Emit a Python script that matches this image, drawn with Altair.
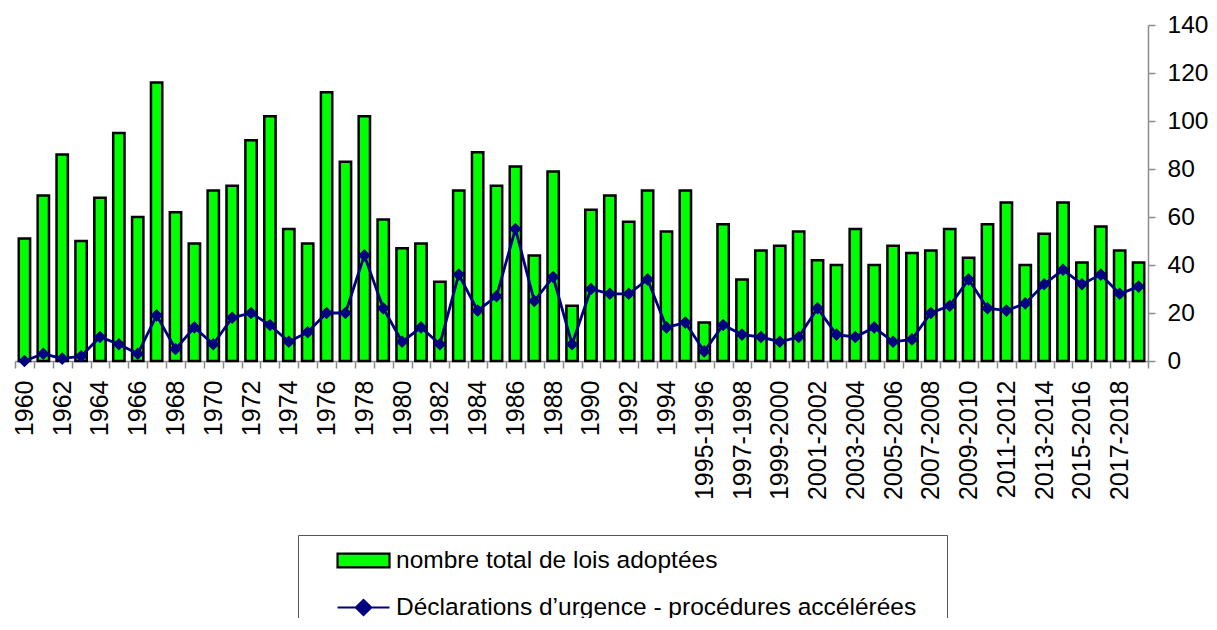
import json
import altair as alt
import pandas as pd

categories = [str(y) for y in range(1960, 1996)] + [f"{y}-{y+1}" for y in range(1995, 2019)]

lois_adoptees = [51, 69, 86, 50, 68, 95, 60, 116, 62, 49, 71, 73, 92, 102, 55,
                 49, 112, 83, 102, 59, 47, 49, 33, 71, 87, 73, 81, 44, 79, 23,
                 63, 69, 58, 71, 54, 71,
                 16, 57, 34, 46, 48, 54, 42, 40,
                 55, 40, 48, 45, 46, 55, 43, 57, 66, 40, 53, 66, 41, 56, 46, 41]

urgences = [0, 3, 1, 2, 10, 7, 3, 19, 5, 14, 7, 18, 20, 15, 8,
            12, 20, 20, 44, 22, 8, 14, 7, 36, 21, 27, 55, 25, 35, 7,
            30, 28, 28, 34, 14, 16,
            4, 15, 11, 10, 8, 10, 22, 11,
            10, 14, 8, 9, 20, 23, 34, 22, 21, 24, 32, 38, 32, 36, 28, 31]

y_ticks = [0, 20, 40, 60, 80, 100, 120, 140]

bar_name = "nombre total de lois adoptées"
line_name = "Déclarations d’urgence - procédures accélérées"
series_names = [bar_name, line_name]

shown_labels = categories[::2]

df = pd.DataFrame({"cat": categories, "lois": lois_adoptees, "urg": urgences})

FONT = "Liberation Sans"
GREEN = "#00ff00"
NAVY = "#000080"
AXIS_GREY = "#8c8c8c"

label_expr = "indexof(" + json.dumps(shown_labels) + ", datum.value) >= 0 ? datum.value : ''"

x_enc = alt.X(
    "cat:N",
    sort=categories,
    scale=alt.Scale(paddingInner=0, paddingOuter=0),
    axis=alt.Axis(
        title=None,
        labelAngle=-90,
        labelExpr=label_expr,
        labelOverlap=False,
        labelFont=FONT,
        labelFontSize=25,
        labelColor="black",
        labelPadding=12,
        tickBand="extent",
        tickSize=7,
        tickColor=AXIS_GREY,
        tickWidth=1.5,
        domainColor=AXIS_GREY,
        domainWidth=1.5,
    ),
)

y_scale = alt.Scale(domain=[0, 140], nice=False)
y_axis = alt.Axis(
    title=None,
    orient="right",
    values=y_ticks,
    grid=False,
    labelFont=FONT,
    labelFontSize=24.5,
    labelColor="black",
    labelPadding=12,
    tickSize=7,
    tickColor=AXIS_GREY,
    tickWidth=1.5,
    domainColor=AXIS_GREY,
    domainWidth=1.5,
)

rect_path = "M-3.33,-0.58L1,-0.58L1,0.58L-3.33,0.58Z"
line_path = "M-3.33,0L1,0M-1.8,0L-1.165,-0.62L-0.53,0L-1.165,0.62Z"

legend = alt.Legend(
    title=None,
    orient="none",
    legendX=283,
    legendY=510,
    direction="vertical",
    labelFont=FONT,
    labelFontSize=24.5,
    labelColor="black",
    labelOffset=5,
    labelExpr="datum.label + '\u2800'",
    symbolSize=576,
    symbolOffset=54,
    symbolStrokeWidth=2.2,
    symbolOpacity=1,
    rowPadding=22,
    padding=12,
    strokeColor="#555555",
    fillColor="white",
    labelLimit=800,
)

base = alt.Chart(df)

bars = base.mark_bar(
    width=alt.RelativeBandSize(0.6), fill=GREEN, stroke="black", strokeWidth=2.5, opacity=1
).encode(
    x=x_enc,
    y=alt.Y("lois:Q", scale=y_scale, axis=y_axis),
)

line = base.mark_line(
    color=NAVY,
    strokeWidth=2.8,
    point=alt.OverlayMarkDef(shape="diamond", size=160, filled=True, color=NAVY, opacity=1),
).encode(
    x=x_enc,
    y=alt.Y("urg:Q", scale=y_scale, axis=y_axis),
)

legend_layer = base.transform_calculate(series=f"'{bar_name}'").transform_filter("false").mark_point(
    filled=True, strokeWidth=2.2, opacity=1
).encode(
    fill=alt.Fill("series:N", scale=alt.Scale(domain=series_names, range=[GREEN, NAVY]), legend=legend),
    stroke=alt.Stroke("series:N", scale=alt.Scale(domain=series_names, range=["black", NAVY]), legend=legend),
    shape=alt.Shape("series:N", scale=alt.Scale(domain=series_names, range=[rect_path, line_path]), legend=legend),
)

chart = alt.layer(bars, line, legend_layer).properties(
    width=1133,
    height=336,
    autosize=alt.AutoSizeParams(type="none"),
    padding={"left": 7, "top": 17, "right": 61, "bottom": 257},
    background="white",
).configure_view(stroke=None)

chart.save("out.html", embed_options={"renderer": "svg", "actions": False})
